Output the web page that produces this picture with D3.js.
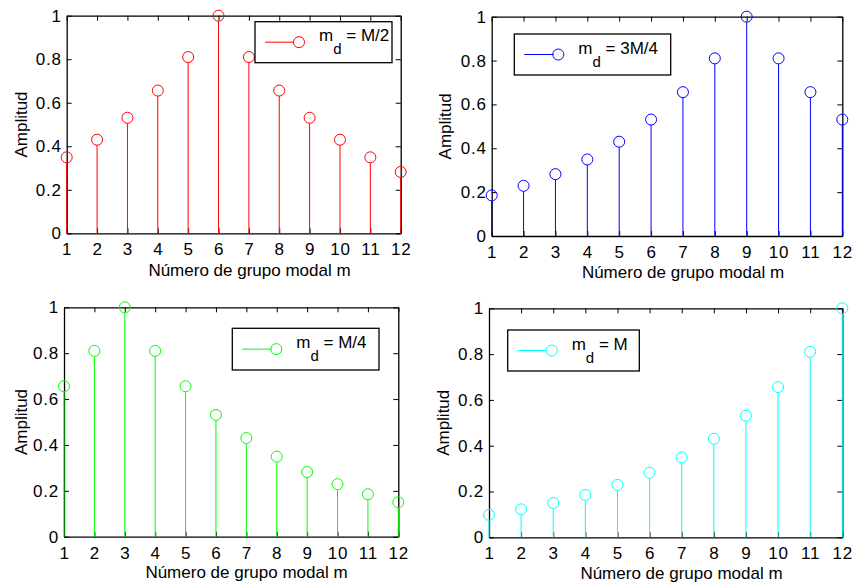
<!DOCTYPE html>
<html>
<head>
<meta charset="utf-8">
<script src="https://cdn.jsdelivr.net/npm/d3@7"></script>
<style>
  html, body { margin: 0; padding: 0; background: #fff; }
  svg { display: block; }
  text { font-family: "Liberation Sans", Arial, Helvetica, sans-serif; fill: #000; }
</style>
</head>
<body>
<svg id="fig" width="853" height="585"></svg>
<script>
// Modal group index and tick labels
const groups = [1, 2, 3, 4, 5, 6, 7, 8, 9, 10, 11, 12];
const yTicks = [0, 0.2, 0.4, 0.6, 0.8, 1];
const yTickLabels = ["0", "0.2", "0.4", "0.6", "0.8", "1"];

// Amplitude per modal group for each central group m_d
const ampHalf   = [0.349, 0.430, 0.531, 0.656, 0.810, 1.000, 0.810, 0.656, 0.531, 0.430, 0.349, 0.282];
const ampThreeQ = [0.185, 0.229, 0.282, 0.349, 0.430, 0.531, 0.656, 0.810, 1.000, 0.810, 0.656, 0.531];
const ampQuarter = [0.656, 0.810, 1.000, 0.810, 0.656, 0.531, 0.430, 0.349, 0.282, 0.229, 0.185, 0.150];
const ampFull   = [0.098, 0.122, 0.150, 0.185, 0.229, 0.282, 0.349, 0.430, 0.531, 0.656, 0.810, 1.000];

const legendLabels = ["M/2", "3M/4", "M/4", "M"];
const xTitle = "Número de grupo modal m";
const yTitle = "Amplitud";

// Panel layout (pixel boxes of each axes and its legend)
const panels = [
  { values: ampHalf,    label: legendLabels[0], color: "#ff0000",
    box: { x0: 66.7, y0: 15.7, x1: 400.7, y1: 233.3 },
    legend: { x0: 255, y0: 21.7, x1: 392, y1: 62.7 },
    yTitleX: 21, xTitleX: 249.5, xTitleY: 275.5 },
  { values: ampThreeQ,  label: legendLabels[1], color: "#0000ff",
    box: { x0: 491.7, y0: 16.7, x1: 842.3, y1: 236 },
    legend: { x0: 514.3, y0: 34, x1: 670.7, y1: 75 },
    yTitleX: 445, xTitleX: 683, xTitleY: 278 },
  { values: ampQuarter, label: legendLabels[2], color: "#00ff00",
    box: { x0: 64, y0: 307.3, x1: 398.3, y1: 536.7 },
    legend: { x0: 232.3, y0: 328.3, x1: 379, y1: 370 },
    yTitleX: 21, xTitleX: 246.5, xTitleY: 578 },
  { values: ampFull,    label: legendLabels[3], color: "#00ffff",
    box: { x0: 489, y0: 308.3, x1: 842.3, y1: 537.3 },
    legend: { x0: 507.7, y0: 330, x1: 639.3, y1: 371 },
    yTitleX: 443, xTitleX: 681.5, xTitleY: 579 }
];

const svg = d3.select("#fig");
const tickFont = 17;
const titleFont = 17;
const r = 5.5;

panels.forEach(p => {
  const b = p.box;
  const x = d3.scaleLinear().domain([1, 12]).range([b.x0, b.x1]);
  const y = d3.scaleLinear().domain([0, 1]).range([b.y1, b.y0]);
  const g = svg.append("g");

  // axes box with inward ticks on all four sides
  const styleAxis = sel => {
    sel.select(".domain").attr("stroke", "#000").attr("stroke-width", 1.3);
    sel.selectAll(".tick line").attr("stroke", "#000").attr("stroke-width", 1);
    sel.selectAll(".tick text").attr("font-size", tickFont).attr("letter-spacing", 0.8)
      .attr("font-family", '"Liberation Sans", Arial, sans-serif').attr("fill", "#000");
  };
  g.append("g").attr("transform", `translate(0,${b.y1})`)
    .call(d3.axisBottom(x).tickValues(groups).tickFormat(d3.format("d"))
      .tickSizeInner(-5).tickSizeOuter(0).tickPadding(10))
    .call(styleAxis);
  g.append("g").attr("transform", `translate(0,${b.y0})`)
    .call(d3.axisTop(x).tickValues(groups).tickFormat("")
      .tickSizeInner(-5).tickSizeOuter(0))
    .call(styleAxis);
  g.append("g").attr("transform", `translate(${b.x0},0)`)
    .call(d3.axisLeft(y).tickValues(yTicks).tickFormat((d, i) => yTickLabels[i])
      .tickSizeInner(-5).tickSizeOuter(0).tickPadding(5))
    .call(styleAxis);
  g.append("g").attr("transform", `translate(${b.x1},0)`)
    .call(d3.axisRight(y).tickValues(yTicks).tickFormat("")
      .tickSizeInner(-5).tickSizeOuter(0))
    .call(styleAxis);
  g.selectAll(".domain").attr("fill", "none");

  // stems and circle markers
  const pts = groups.map((m, i) => ({ m, v: p.values[i] }));
  g.append("g").selectAll("line").data(pts).join("line")
    .attr("x1", d => x(d.m)).attr("x2", d => x(d.m))
    .attr("y1", y(0)).attr("y2", d => y(d.v) + r)
    .attr("stroke", p.color).attr("stroke-width", 1);
  g.append("g").selectAll("circle").data(pts).join("circle")
    .attr("cx", d => x(d.m)).attr("cy", d => y(d.v)).attr("r", r)
    .attr("fill", "none").attr("stroke", p.color).attr("stroke-width", 1);

  // axis titles
  g.append("text").attr("x", p.xTitleX).attr("y", p.xTitleY)
    .attr("text-anchor", "middle").attr("font-size", titleFont).text(xTitle);
  g.append("text")
    .attr("transform", `translate(${p.yTitleX},${(b.y0 + b.y1) / 2}) rotate(-90)`)
    .attr("text-anchor", "middle").attr("dy", "0.35em")
    .attr("font-size", titleFont).text(yTitle);

  // legend
  const L = p.legend;
  const lg = g.append("g");
  lg.append("rect").attr("x", L.x0).attr("y", L.y0)
    .attr("width", L.x1 - L.x0).attr("height", L.y1 - L.y0)
    .attr("fill", "#fff").attr("stroke", "#000").attr("stroke-width", 1.3);
  const ly = (L.y0 + L.y1) / 2;
  lg.append("line").attr("x1", L.x0 + 10).attr("x2", L.x0 + 39)
    .attr("y1", ly).attr("y2", ly).attr("stroke", p.color).attr("stroke-width", 1);
  lg.append("circle").attr("cx", L.x0 + 44).attr("cy", ly).attr("r", r)
    .attr("fill", "none").attr("stroke", p.color).attr("stroke-width", 1);
  const t = lg.append("text").attr("x", L.x0 + 64).attr("y", ly - 1).attr("font-size", titleFont);
  t.append("tspan").text("m");
  t.append("tspan").attr("dy", 13).attr("font-size", 15).text("d");
  t.append("tspan").attr("dy", -13).text(" = " + p.label);
});
</script>
</body>
</html>
